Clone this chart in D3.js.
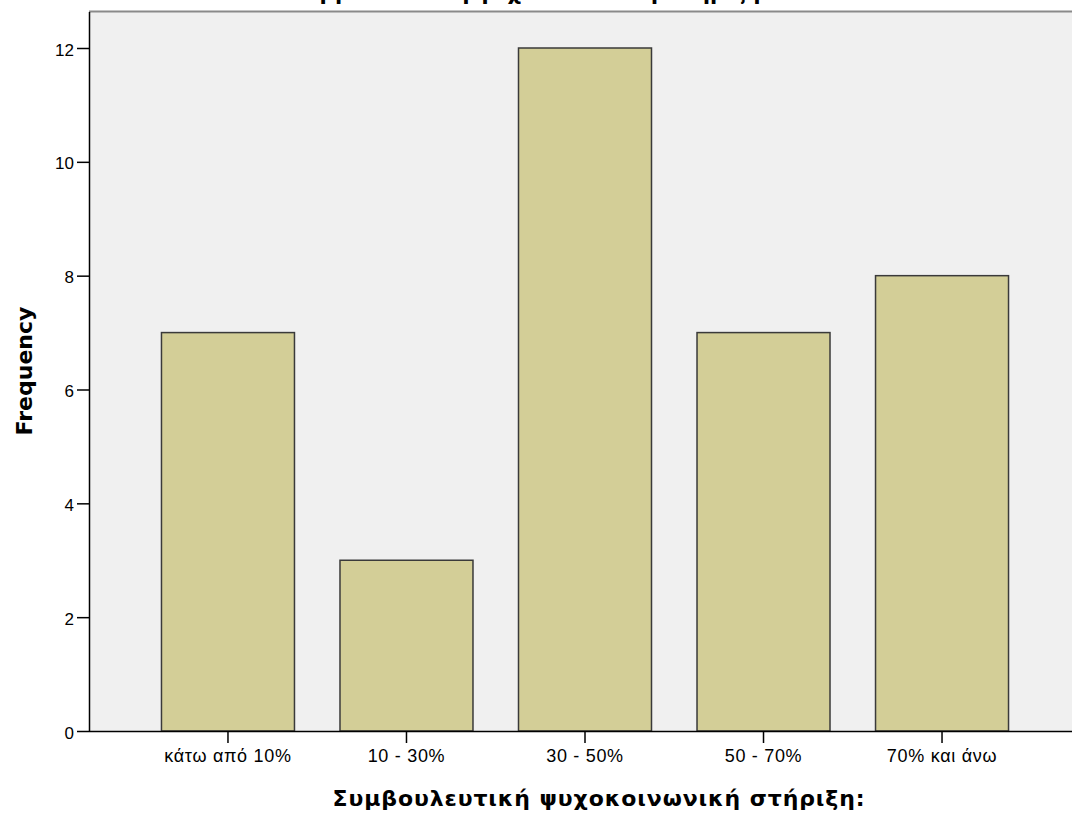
<!DOCTYPE html>
<html>
<head>
<meta charset="utf-8">
<script src="https://cdn.jsdelivr.net/npm/d3@7"></script>
<style>
  html, body { margin: 0; padding: 0; background: #ffffff; }
  svg { display: block; }
</style>
</head>
<body>
<script>
const categories = ["κάτω από 10%", "10 - 30%", "30 - 50%", "50 - 70%", "70% και άνω"];
const frequencies = [7, 3, 12, 7, 8];
const yTicks = [0, 2, 4, 6, 8, 10, 12];
const chartTitle = "Συμβουλευτική ψυχοκοινωνική στήριξη:";
const xTitle = "Συμβουλευτική ψυχοκοινωνική στήριξη:";
const yTitle = "Frequency";

const W = 1072, H = 814;
const plot = { left: 89, right: 1081, top: 12, bottom: 731 };

const svg = d3.select("body").append("svg").attr("width", W).attr("height", H);

// plot background
svg.append("rect")
  .attr("x", plot.left).attr("y", plot.top)
  .attr("width", plot.right - plot.left).attr("height", plot.bottom - plot.top)
  .attr("fill", "#f0f0f0");
// top frame line
svg.append("line")
  .attr("x1", plot.left).attr("x2", W)
  .attr("y1", plot.top - 0.5).attr("y2", plot.top - 0.5)
  .attr("stroke", "#8a8a8a").attr("stroke-width", 2);

const x = d3.scaleBand().domain(categories)
  .range([plot.left, plot.right])
  .paddingInner(0.255).paddingOuter(0.406);
const y = d3.scaleLinear().domain([0, 12]).range([plot.bottom, 48]);

// bars
svg.append("g").selectAll("rect").data(categories).join("rect")
  .attr("x", d => x(d))
  .attr("y", (d, i) => y(frequencies[i]))
  .attr("width", x.bandwidth())
  .attr("height", (d, i) => y(0) - y(frequencies[i]))
  .attr("fill", "#d3ce97")
  .attr("stroke", "#3a3a3a").attr("stroke-width", 1.5);

// y axis
const yAxis = svg.append("g").attr("transform", `translate(${plot.left},0)`)
  .call(d3.axisLeft(y).tickValues(yTicks).tickFormat(d3.format("d")).tickSize(12).tickPadding(3));
yAxis.select(".domain").attr("d", `M0.5,${plot.top}V${plot.bottom}`).attr("stroke", "#000").attr("stroke-width", 1.5);
yAxis.selectAll(".tick line").attr("stroke", "#000").attr("stroke-width", 1.5);
yAxis.selectAll(".tick text")
  .attr("font-family", "'Liberation Sans', Arial, sans-serif")
  .attr("font-size", 17).attr("fill", "#000").attr("dy", "0.42em");

// x axis
const xAxis = svg.append("g").attr("transform", `translate(0,${plot.bottom})`)
  .call(d3.axisBottom(x).tickSize(12).tickPadding(6));
xAxis.select(".domain").attr("d", `M${plot.left},0.5H${W}`).attr("stroke", "#000").attr("stroke-width", 1.5);
xAxis.selectAll(".tick line").attr("stroke", "#000").attr("stroke-width", 1.5);
xAxis.selectAll(".tick text")
  .attr("font-family", "'Liberation Sans', Arial, sans-serif")
  .attr("font-size", 18).attr("letter-spacing", 0.7).attr("fill", "#000");

// titles
svg.append("text")
  .attr("x", 530).attr("y", 0)
  .attr("text-anchor", "middle")
  .attr("font-family", "'DejaVu Sans', sans-serif").attr("font-weight", "bold")
  .attr("font-size", 21).attr("fill", "#000")
  .text(chartTitle);

svg.append("text")
  .attr("x", 599).attr("y", 806)
  .attr("text-anchor", "middle")
  .attr("font-family", "'DejaVu Sans', sans-serif").attr("font-weight", "bold")
  .attr("font-size", 22).attr("letter-spacing", 0.9).attr("fill", "#000")
  .text(xTitle);

svg.append("text")
  .attr("transform", "translate(32,371) rotate(-90)")
  .attr("text-anchor", "middle")
  .attr("font-family", "'DejaVu Sans', sans-serif").attr("font-weight", "bold")
  .attr("font-size", 22).attr("fill", "#000")
  .text(yTitle);
</script>
</body>
</html>
